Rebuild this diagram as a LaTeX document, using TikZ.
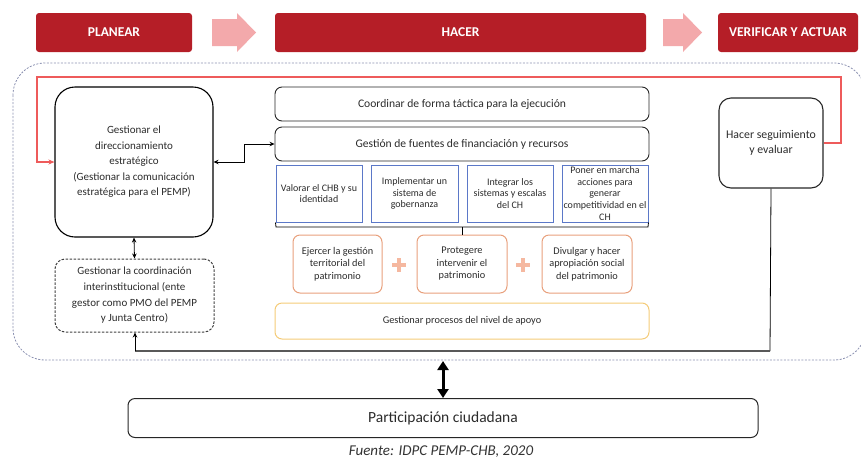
\documentclass[tikz,border=0pt]{standalone}
\usepackage{fontspec}
\setmainfont{Carlito}
\usetikzlibrary{arrows.meta}
\definecolor{hdr}{HTML}{B51E27}
\definecolor{harrow}{HTML}{F3A9AB}
\definecolor{fb}{HTML}{EE5B5B}
\definecolor{blu}{HTML}{5B78C8}
\definecolor{org}{HTML}{E8A07C}
\definecolor{plusc}{HTML}{F5B8A0}
\definecolor{ylw}{HTML}{F4CB78}
\definecolor{outerc}{HTML}{8A90B0}
\definecolor{txt}{HTML}{2B2B2B}
\begin{document}
\begin{tikzpicture}[x=1pt,y=-1pt,
  every node/.style={text=txt, inner sep=0pt, align=center},
  hdrbox/.style={fill=hdr, draw=none, rounded corners=3pt, text=white,
    font=\bfseries\fontsize{13.5}{16}\selectfont, minimum height=39pt},
  widebox/.style={draw=black!85, line width=0.9pt, rounded corners=7pt,
    minimum width=374pt, minimum height=34pt, font=\fontsize{11.6}{14}\selectfont},
  bluebox/.style={draw=blu, line width=1pt, minimum width=86pt, minimum height=57pt,
    font=\fontsize{10}{11.6}\selectfont},
  orgbox/.style={draw=org, line width=1pt, rounded corners=7pt, minimum width=89pt,
    minimum height=58pt, font=\fontsize{10.3}{12.5}\selectfont},
  conn/.style={black, line width=0.8pt},
  tip/.style={{Stealth[length=5pt,width=4.5pt]}-{Stealth[length=5pt,width=4.5pt]}}
]
\useasboundingbox (0,0) rectangle (861,461);

% header bars
\node[hdrbox, minimum width=156pt] (plan) at (114,32.5) {PLANEAR};
\node[hdrbox, minimum width=371pt] (hacer) at (460.5,32.5) {HACER};
\node[hdrbox, minimum width=140pt] (verif) at (788,32.5) {VERIFICAR Y ACTUAR};
\fill[harrow] (212,19) -- (237,19) -- (237,13) -- (256,32.5) -- (237,52) -- (237,46) -- (212,46) -- cycle;
\fill[harrow] (663,19) -- (683,19) -- (683,13) -- (702,32.5) -- (683,52) -- (683,46) -- (663,46) -- cycle;

% outer dashed container
\draw[outerc, dash pattern=on 2pt off 1.5pt, line width=0.8pt, rounded corners=32pt] (13,63) rectangle (866,360);

% main nodes
\node[draw=black, line width=1.1pt, rounded corners=20pt, minimum width=158pt, minimum height=150pt,
  font=\fontsize{11}{15.5}\selectfont] (dir) at (134,162)
  {Gestionar el\\direccionamiento\\estratégico\\(Gestionar la comunicación\\estratégica para el PEMP)};
\node[draw=black!75, line width=1pt, dash pattern=on 2.5pt off 1.5pt, rounded corners=10pt,
  minimum width=159pt, minimum height=73pt, font=\fontsize{11}{15.7}\selectfont] (coordinst) at (134.5,295.5)
  {Gestionar la coordinación\\interinstitucional (ente\\gestor como PMO del PEMP\\y Junta Centro)};

\node[widebox] (coord) at (462,104) {Coordinar de forma táctica para la ejecución};
\node[widebox] (fin) at (462,144) {Gestión de fuentes de financiación y recursos};

\node[bluebox] (b1) at (319,193.5) {Valorar el CHB y su\\identidad};
\node[bluebox, minimum width=87pt] (b2) at (414.5,193.5) {Implementar un\\sistema de\\gobernanza};
\node[bluebox] (b3) at (510,193.5) {Integrar los\\sistemas y escalas\\del CH};
\node[bluebox] (b4) at (605,193.5) {Poner en marcha\\acciones para\\generar\\competitividad en el\\CH};

\node[orgbox] (o1) at (337.5,264) {Ejercer la gestión\\territorial del\\patrimonio};
\node[orgbox, minimum width=90pt] (o2) at (462,264) {Protegere\\intervenir el\\patrimonio};
\node[orgbox, minimum width=90pt] (o3) at (587,264) {Divulgar y hacer\\apropiación social\\del patrimonio};

\node[draw=ylw, line width=1pt, rounded corners=7pt, minimum width=374pt, minimum height=36pt,
  font=\fontsize{10.3}{12}\selectfont] (apoyo) at (462,321) {Gestionar procesos del nivel de apoyo};

\node[draw=black!85, line width=1.1pt, rounded corners=12pt, minimum width=104pt, minimum height=90pt,
  font=\fontsize{11.8}{14.5}\selectfont] (seg) at (771,143) {Hacer seguimiento\\y evaluar};

\node[draw=black!85, line width=1pt, rounded corners=7pt, minimum width=630pt, minimum height=39pt,
  font=\fontsize{15.5}{18}\selectfont] (part) at (443,418) {Participación ciudadana};

\node[font=\itshape\fontsize{15}{17}\selectfont, text=black!80] (cap) at (441,452) {Fuente: IDPC PEMP-CHB, 2020};

% plus signs
\draw[plusc, line width=3.5pt] (392,265) -- (406,265) (399,258) -- (399,272);
\draw[plusc, line width=3.5pt] (516,265) -- (530,265) (523,258) -- (523,272);

% bracket under blue boxes
\coordinate (brl) at (276,227);
\coordinate (brr) at (648,227);
\draw[conn] (b1.south west) -- (brl) -- (brr) -- (b4.south east);
\draw[conn] (o2.north |- brl) -- (o2.north);

% feedback red line
\coordinate (fbtr) at (841,77);
\coordinate (fbtl) at (37,77);
\draw[fb, line width=1.6pt, -{Stealth[length=6pt,width=5pt]}] (seg.east) -| (fbtr) -- (fbtl) |- (dir.west);

% dir <-> fin elbow
\coordinate (elb) at (244,150);
\draw[conn, tip] (dir.east) -- (dir.east -| elb) -- (elb |- fin.west) -- (fin.west);

% dir <-> coordinst
\draw[conn, tip] (dir.south) -- (coordinst.north);

% bottom return line
\coordinate (brc) at (770,351);
\coordinate (blc) at (135,351);
\draw[conn] (seg.south) -- (brc);
\draw[black!65, line width=2pt] (brc) -- (blc);
\draw[conn, -{Stealth[length=5pt,width=4.5pt]}] (blc) -- (blc |- coordinst.south);

% participation arrow
\coordinate (pa) at (443,361);
\draw[black, line width=3pt, {Triangle[width=11pt,length=9pt]}-{Triangle[width=11pt,length=9pt]}] (pa) -- (part.north);
\end{tikzpicture}
\end{document}
